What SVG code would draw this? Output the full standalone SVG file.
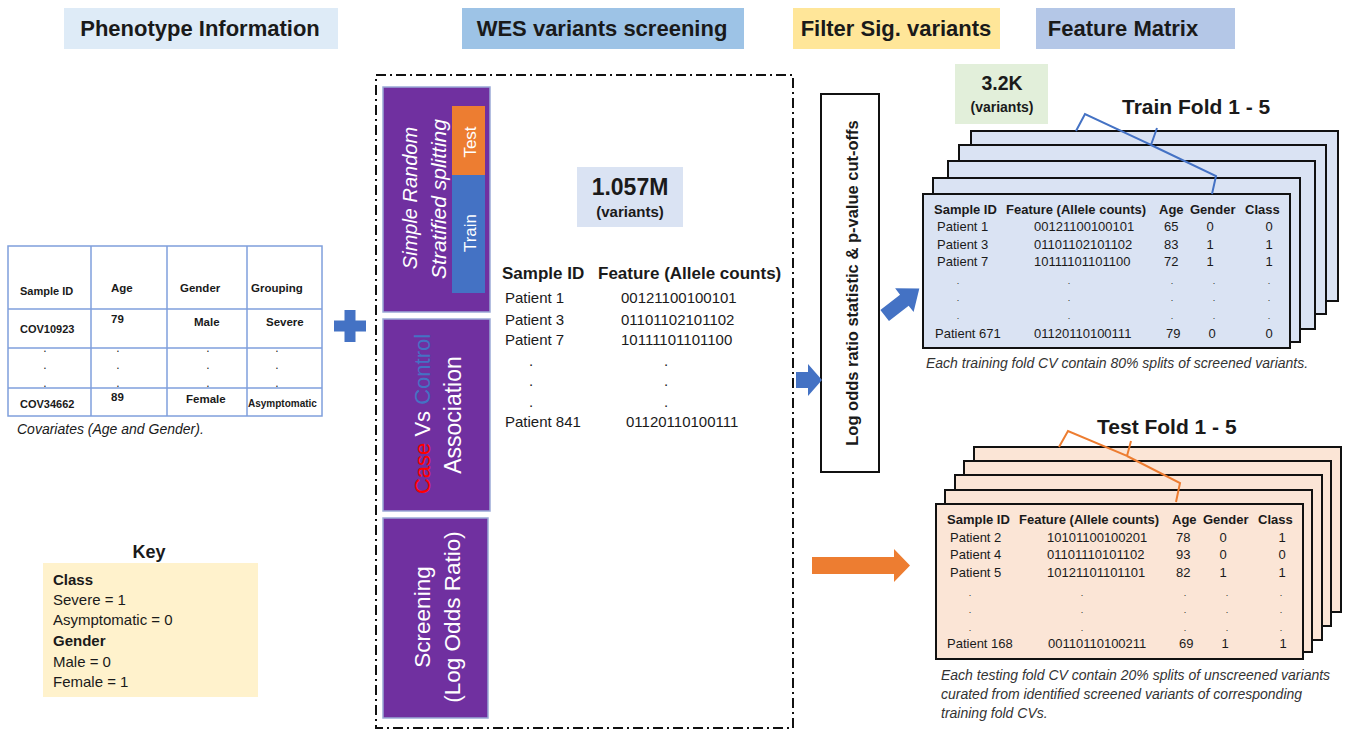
<svg xmlns="http://www.w3.org/2000/svg" width="1345" height="730" viewBox="0 0 1345 730">
  <defs>
    <style>
      text { font-family: "Liberation Sans", Arial, sans-serif; fill: #1a1a1a; }
      .hdr { font-size: 22px; font-weight: bold; }
      .b { font-weight: bold; }
      .it { font-style: italic; }
      .tbl { stroke: #7f9fdc; stroke-width: 1.5; fill: none; }
      .ph { font-size: 11.5px; font-weight: bold; }
      .dot { font-size: 12px; }
      .purple { fill: #7030a0; stroke: #9aa9d6; stroke-width: 1.5; }
      .wt { fill: #ffffff; }
      .card-tr { fill: #dae3f3; stroke: #111; stroke-width: 2; }
      .card-te { fill: #fbe5d6; stroke: #111; stroke-width: 2; }
      .ch { font-size: 13px; font-weight: bold; }
      .cr { font-size: 13px; }
      .cap { font-size: 14px; font-style: italic; fill: #333; }
      .mid { text-anchor: middle; }
    </style>
  </defs>

  <rect width="1345" height="730" fill="#ffffff"/>

  <!-- column headers -->
  <g id="header-phenotype">
    <rect x="64" y="8" width="274" height="41" fill="#deebf7"/>
    <text class="hdr mid" x="200" y="36">Phenotype Information</text>
  </g>
  <g id="header-wes">
    <rect x="462" y="8" width="282" height="41" fill="#9dc3e6"/>
    <text class="hdr mid" x="602" y="36">WES variants screening</text>
  </g>
  <g id="header-filter">
    <rect x="793" y="8" width="207" height="41" fill="#ffe699"/>
    <text class="hdr mid" x="896" y="36">Filter Sig. variants</text>
  </g>
  <g id="header-matrix">
    <rect x="1036" y="8" width="199" height="41" fill="#b4c7e7"/>
    <text class="hdr mid" x="1123" y="36">Feature Matrix</text>
  </g>

  <!-- phenotype covariate table -->
  <g id="phenotype-table">
    <rect class="tbl" x="8" y="246" width="314" height="170"/>
    <line class="tbl" x1="91" y1="246" x2="91" y2="416"/>
    <line class="tbl" x1="167" y1="246" x2="167" y2="416"/>
    <line class="tbl" x1="247" y1="246" x2="247" y2="416"/>
    <line class="tbl" x1="8" y1="309" x2="322" y2="309"/>
    <line class="tbl" x1="8" y1="348" x2="322" y2="348"/>
    <line class="tbl" x1="8" y1="388" x2="322" y2="388"/>
    <text class="ph" x="20" y="295" style="font-size:11px">Sample ID</text>
    <text class="ph" x="111" y="292">Age</text>
    <text class="ph" x="180" y="292">Gender</text>
    <text class="ph" x="251" y="292">Grouping</text>
    <text class="ph" x="20" y="333" style="font-size:11px">COV10923</text>
    <text class="ph" x="111" y="323">79</text>
    <text class="ph" x="194" y="326">Male</text>
    <text class="ph" x="266" y="326">Severe</text>
    <g>
      <text class="dot mid" x="45" y="352">.</text><text class="dot mid" x="45" y="369">.</text><text class="dot mid" x="45" y="387">.</text>
      <text class="dot mid" x="118" y="352">.</text><text class="dot mid" x="118" y="369">.</text><text class="dot mid" x="118" y="387">.</text>
      <text class="dot mid" x="208" y="352">.</text><text class="dot mid" x="208" y="369">.</text><text class="dot mid" x="208" y="387">.</text>
      <text class="dot mid" x="277" y="352">.</text><text class="dot mid" x="277" y="369">.</text><text class="dot mid" x="277" y="387">.</text>
    </g>
    <text class="ph" x="20" y="408" style="font-size:11px">COV34662</text>
    <text class="ph" x="111" y="401">89</text>
    <text class="ph" x="186" y="403">Female</text>
    <text class="ph" x="248" y="407" style="font-size:10px">Asymptomatic</text>
    <text class="it" x="17" y="434" style="font-size:14px">Covariates (Age and Gender).</text>
  </g>

  <!-- key -->
  <g id="key">
    <text class="b mid" x="149" y="558" style="font-size:18px">Key</text>
    <rect x="43" y="563" width="215" height="134" fill="#fff2cc"/>
    <text x="53" y="585" style="font-size:15px"><tspan class="b">Class</tspan></text>
    <text x="53" y="605" style="font-size:15px">Severe = 1</text>
    <text x="53" y="625" style="font-size:15px">Asymptomatic = 0</text>
    <text x="53" y="646" style="font-size:15px"><tspan class="b">Gender</tspan></text>
    <text x="53" y="667" style="font-size:15px">Male = 0</text>
    <text x="53" y="687" style="font-size:15px">Female = 1</text>
  </g>

  <!-- WES screening panel -->
  <g id="wes-panel">
    <rect x="376" y="75" width="417" height="653" fill="none" stroke="#111" stroke-width="2" stroke-dasharray="10 4 2 4"/>
  </g>

  <g id="step-splitting">
    <rect class="purple" x="383" y="87" width="107" height="225"/>
    <rect x="452" y="106" width="33" height="69" fill="#ed7d31"/>
    <rect x="452" y="175" width="33" height="118" fill="#4472c4"/>
    <text class="wt it mid" transform="translate(417,198) rotate(-90)" style="font-size:20px">Simple Random</text>
    <text class="wt it mid" transform="translate(446,199) rotate(-90)" style="font-size:21px">Stratified splitting</text>
    <text class="wt mid" transform="translate(476,142) rotate(-90)" style="font-size:17px">Test</text>
    <text class="wt mid" transform="translate(476,233) rotate(-90)" style="font-size:17px">Train</text>
  </g>

  <g id="step-association">
    <rect class="purple" x="383" y="319" width="107" height="192"/>
    <text class="mid" transform="translate(430,414) rotate(-90)" style="font-size:22px"><tspan fill="#ff0000">Case</tspan><tspan fill="#ffffff"> Vs </tspan><tspan fill="#4472c4">Control</tspan></text>
    <text class="wt mid" transform="translate(461,415) rotate(-90)" style="font-size:23px">Association</text>
  </g>

  <g id="step-screening">
    <rect class="purple" x="383" y="518" width="105" height="200"/>
    <text class="wt mid" transform="translate(430,617) rotate(-90)" style="font-size:22.5px">Screening</text>
    <text class="wt mid" transform="translate(460,617) rotate(-90)" style="font-size:22.5px">(Log Odds Ratio)</text>
  </g>

  <g id="wes-count">
    <rect x="577" y="167" width="106" height="60" fill="#dae3f3"/>
    <text class="b mid" x="630" y="195" style="font-size:23px">1.057M</text>
    <text class="b mid" x="630" y="217" style="font-size:15px">(variants)</text>
  </g>

  <g id="wes-matrix">
    <text class="b" x="502" y="279" style="font-size:17px">Sample ID</text>
    <text class="b" x="598" y="279" style="font-size:17px">Feature (Allele counts)</text>
    <text x="505" y="303" style="font-size:15px">Patient 1</text>
    <text x="621" y="303" style="font-size:15px">00121100100101</text>
    <text x="505" y="325" style="font-size:15px">Patient 3</text>
    <text x="621" y="325" style="font-size:15px">01101102101102</text>
    <text x="505" y="345" style="font-size:15px">Patient 7</text>
    <text x="621" y="345" style="font-size:15px">10111101101100</text>
    <text class="mid" x="531" y="366" style="font-size:15px">.</text>
    <text class="mid" x="666" y="366" style="font-size:15px">.</text>
    <text class="mid" x="531" y="386" style="font-size:15px">.</text>
    <text class="mid" x="666" y="386" style="font-size:15px">.</text>
    <text class="mid" x="531" y="407" style="font-size:15px">.</text>
    <text class="mid" x="666" y="407" style="font-size:15px">.</text>
    <text x="505" y="427" style="font-size:15px">Patient 841</text>
    <text x="626" y="427" style="font-size:15px">01120110100111</text>
  </g>

  <!-- significance filter -->
  <g id="filter-box">
    <rect x="821" y="94" width="58" height="378" fill="#ffffff" stroke="#111" stroke-width="2"/>
    <text class="b mid" transform="translate(858,283) rotate(-90)" style="font-size:16.5px">Log odds ratio statistic &amp; p-value cut-offs</text>
  </g>

  <!-- training folds -->
  <g id="train-folds">
    <rect class="card-tr" x="971" y="131" width="367" height="170"/>
    <rect class="card-tr" x="959" y="145" width="367" height="169"/>
    <rect class="card-tr" x="948" y="161" width="367" height="168"/>
    <rect class="card-tr" x="933" y="178" width="367" height="164"/>
    <rect class="card-tr" x="923" y="194" width="367" height="154"/>
    <path d="M1076,131 L1085,114 L1151,145 L1157,128 M1151,145 L1216,176 L1212,194" fill="none" stroke="#4472c4" stroke-width="2"/>
    <text class="b" x="1122" y="114" style="font-size:21px">Train Fold 1 - 5</text>
    <text class="ch" x="934" y="214">Sample ID</text>
    <text class="ch" x="1006" y="214">Feature (Allele counts)</text>
    <text class="ch" x="1159" y="214">Age</text>
    <text class="ch" x="1190" y="214">Gender</text>
    <text class="ch" x="1245" y="214">Class</text>
    <text class="cr" x="937" y="231">Patient 1</text>
    <text class="cr" x="1034" y="231">00121100100101</text>
    <text class="cr" x="1164" y="231">65</text>
    <text class="cr mid" x="1210" y="231">0</text>
    <text class="cr mid" x="1269" y="231">0</text>
    <text class="cr" x="937" y="249">Patient 3</text>
    <text class="cr" x="1034" y="249">01101102101102</text>
    <text class="cr" x="1164" y="249">83</text>
    <text class="cr mid" x="1210" y="249">1</text>
    <text class="cr mid" x="1269" y="249">1</text>
    <text class="cr" x="937" y="266">Patient 7</text>
    <text class="cr" x="1034" y="266">10111101101100</text>
    <text class="cr" x="1164" y="266">72</text>
    <text class="cr mid" x="1210" y="266">1</text>
    <text class="cr mid" x="1269" y="266">1</text>
    <g>
      <text class="mid" x="958" y="284" style="font-size:9px">.</text><text class="mid" x="1069" y="284" style="font-size:9px">.</text><text class="mid" x="1172" y="284" style="font-size:9px">.</text><text class="mid" x="1214" y="284" style="font-size:9px">.</text><text class="mid" x="1269" y="284" style="font-size:9px">.</text>
      <text class="mid" x="958" y="301" style="font-size:9px">.</text><text class="mid" x="1069" y="301" style="font-size:9px">.</text><text class="mid" x="1172" y="301" style="font-size:9px">.</text><text class="mid" x="1214" y="301" style="font-size:9px">.</text><text class="mid" x="1269" y="301" style="font-size:9px">.</text>
      <text class="mid" x="958" y="319" style="font-size:9px">.</text><text class="mid" x="1069" y="319" style="font-size:9px">.</text><text class="mid" x="1172" y="319" style="font-size:9px">.</text><text class="mid" x="1214" y="319" style="font-size:9px">.</text><text class="mid" x="1269" y="319" style="font-size:9px">.</text>
    </g>
    <text class="cr" x="935" y="338">Patient 671</text>
    <text class="cr" x="1034" y="338">01120110100111</text>
    <text class="cr" x="1166" y="338">79</text>
    <text class="cr mid" x="1212" y="338">0</text>
    <text class="cr mid" x="1269" y="338">0</text>
    <text class="cap" x="926" y="368">Each training fold CV contain 80% splits of screened variants.</text>
  </g>

  <g id="train-count">
    <rect x="955" y="64" width="93" height="60" fill="#e2efda"/>
    <text class="b mid" x="1002" y="90" style="font-size:19.5px">3.2K</text>
    <text class="b mid" x="1002" y="112" style="font-size:14px">(variants)</text>
  </g>

  <!-- testing folds -->
  <g id="test-folds">
    <rect class="card-te" x="974" y="447" width="367" height="165"/>
    <rect class="card-te" x="964" y="461" width="367" height="165"/>
    <rect class="card-te" x="955" y="475" width="367" height="165"/>
    <rect class="card-te" x="945" y="490" width="367" height="162"/>
    <rect class="card-te" x="936" y="504" width="367" height="155"/>
    <path d="M1059,447 L1068,431 L1127,456 L1131,441 M1127,456 L1180,483 L1176,502" fill="none" stroke="#ed7d31" stroke-width="2"/>
    <text class="b" x="1097" y="434" style="font-size:21px">Test Fold 1 - 5</text>
    <text class="ch" x="947" y="524">Sample ID</text>
    <text class="ch" x="1019" y="524">Feature (Allele counts)</text>
    <text class="ch" x="1172" y="524">Age</text>
    <text class="ch" x="1203" y="524">Gender</text>
    <text class="ch" x="1258" y="524">Class</text>
    <text class="cr" x="950" y="542">Patient 2</text>
    <text class="cr" x="1047" y="542">10101100100201</text>
    <text class="cr" x="1176" y="542">78</text>
    <text class="cr mid" x="1223" y="542">0</text>
    <text class="cr mid" x="1282" y="542">1</text>
    <text class="cr" x="950" y="559">Patient 4</text>
    <text class="cr" x="1047" y="559">01101110101102</text>
    <text class="cr" x="1176" y="559">93</text>
    <text class="cr mid" x="1223" y="559">0</text>
    <text class="cr mid" x="1282" y="559">0</text>
    <text class="cr" x="950" y="577">Patient 5</text>
    <text class="cr" x="1047" y="577">10121101101101</text>
    <text class="cr" x="1176" y="577">82</text>
    <text class="cr mid" x="1223" y="577">1</text>
    <text class="cr mid" x="1282" y="577">1</text>
    <g>
      <text class="mid" x="970" y="596" style="font-size:9px">.</text><text class="mid" x="1082" y="596" style="font-size:9px">.</text><text class="mid" x="1185" y="596" style="font-size:9px">.</text><text class="mid" x="1227" y="596" style="font-size:9px">.</text><text class="mid" x="1281" y="596" style="font-size:9px">.</text>
      <text class="mid" x="970" y="613" style="font-size:9px">.</text><text class="mid" x="1082" y="613" style="font-size:9px">.</text><text class="mid" x="1185" y="613" style="font-size:9px">.</text><text class="mid" x="1227" y="613" style="font-size:9px">.</text><text class="mid" x="1281" y="613" style="font-size:9px">.</text>
      <text class="mid" x="970" y="631" style="font-size:9px">.</text><text class="mid" x="1082" y="631" style="font-size:9px">.</text><text class="mid" x="1185" y="631" style="font-size:9px">.</text><text class="mid" x="1227" y="631" style="font-size:9px">.</text><text class="mid" x="1281" y="631" style="font-size:9px">.</text>
    </g>
    <text class="cr" x="947" y="648">Patient 168</text>
    <text class="cr" x="1048" y="648">00110110100211</text>
    <text class="cr" x="1179" y="648">69</text>
    <text class="cr mid" x="1225" y="648">1</text>
    <text class="cr mid" x="1283" y="648">1</text>
    <text class="cap" x="941" y="680">Each testing fold CV contain 20% splits of unscreened variants</text>
    <text class="cap" x="941" y="699">curated from identified screened variants of corresponding</text>
    <text class="cap" x="941" y="718">training fold CVs.</text>
  </g>

  <!-- arrows and joiners -->
  <g id="connectors">
    <path d="M350,310 L350,342 M334,326 L366,326" stroke="#4472c4" stroke-width="11" fill="none"/>
    <path d="M796,372 L808,372 L808,364 L822,380 L808,396 L808,388 L796,388 Z" fill="#4472c4"/>
    <path d="M-22,-7 L3,-7 L3,-15 L22,0 L3,15 L3,7 L-22,7 Z" fill="#4472c4" transform="translate(902,302) rotate(-38)"/>
    <path d="M812,557 L894,557 L894,549 L910,565.5 L894,582 L894,574 L812,574 Z" fill="#ed7d31"/>
  </g>
</svg>
